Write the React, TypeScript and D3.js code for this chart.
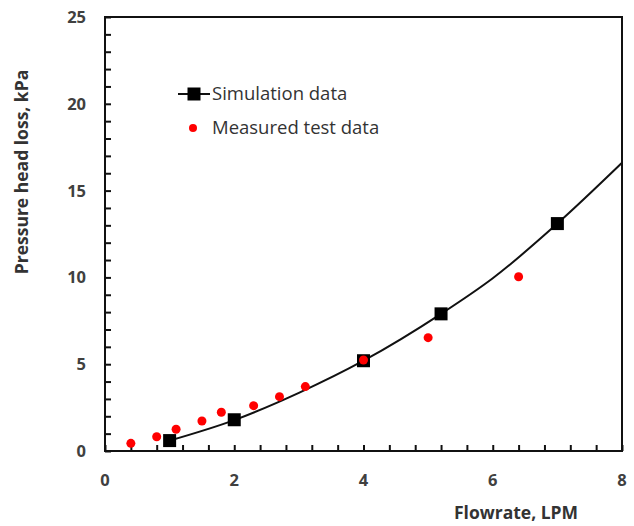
import React, { useEffect, useRef } from "react";
import * as d3 from "d3";

// simulation data (black squares)
const simX = [1, 2, 4, 5.2, 7];
const simY = [0.6, 1.8, 5.2, 7.9, 13.1];

// trend line, runs past the last square to the frame
const trendX = [1, 2, 3, 4, 5.2, 6, 7, 8];
const trendY = [0.6, 1.78, 3.35, 5.2, 7.9, 9.95, 13.1, 16.6];

// measured test data (red dots)
const measX = [0.4, 0.8, 1.1, 1.5, 1.8, 2.3, 2.7, 3.1, 4.0, 5.0, 6.4];
const measY = [0.44, 0.82, 1.25, 1.73, 2.23, 2.61, 3.13, 3.71, 5.24, 6.53, 10.04];

const xTicks = [0, 2, 4, 6, 8];
const yTicks = [0, 5, 10, 15, 20, 25];

const W = 634;
const H = 526;
const M = { left: 105, top: 17, right: 12, bottom: 75 };

const Chart = () => {
    const ref = useRef<SVGSVGElement>(null);

    useEffect(() => {
        if (!ref.current) return;
        const svg = d3.select(ref.current);
        svg.selectAll("*").remove();

        const innerW = W - M.left - M.right;
        const innerH = H - M.top - M.bottom;

        const x = d3.scaleLinear().domain([0, 8]).range([M.left, M.left + innerW]);
        const y = d3.scaleLinear().domain([0, 25]).range([M.top + innerH, M.top]);

        const labelFont = "'Open Sans', sans-serif";
        const grey = "#404040";

        svg.append("rect").attr("width", W).attr("height", H).attr("fill", "#fff");

        // frame
        svg.append("rect")
            .attr("x", M.left)
            .attr("y", M.top)
            .attr("width", innerW)
            .attr("height", innerH)
            .attr("fill", "none")
            .attr("stroke", "#111")
            .attr("stroke-width", 2);

        // minor ticks, pointing inside
        const xMinor = d3.range(0, 8.001, 0.4);
        const yMinor = d3.range(0, 25.001, 1);

        svg.append("g")
            .attr("transform", `translate(0,${M.top + innerH})`)
            .call(d3.axisBottom(x).tickValues(xMinor).tickSize(-6).tickFormat(() => ""))
            .call(g => g.select(".domain").remove())
            .call(g => g.selectAll("line").attr("stroke", "#111").attr("stroke-width", 2));

        svg.append("g")
            .attr("transform", `translate(${M.left},0)`)
            .call(d3.axisLeft(y).tickValues(yMinor).tickSize(-6).tickFormat(() => ""))
            .call(g => g.select(".domain").remove())
            .call(g => g.selectAll("line").attr("stroke", "#111").attr("stroke-width", 2));

        // major tick labels
        svg.append("g")
            .selectAll("text")
            .data(xTicks)
            .join("text")
            .attr("x", d => x(d))
            .attr("y", M.top + innerH + 35)
            .attr("text-anchor", "middle")
            .attr("font-family", labelFont)
            .attr("font-weight", "bold")
            .attr("font-size", 16.5)
            .attr("fill", grey)
            .text(d => d);

        svg.append("g")
            .selectAll("text")
            .data(yTicks)
            .join("text")
            .attr("x", M.left - 19)
            .attr("y", d => y(d) + 6)
            .attr("text-anchor", "end")
            .attr("font-family", labelFont)
            .attr("font-weight", "bold")
            .attr("font-size", 16.5)
            .attr("fill", grey)
            .text(d => d);

        // axis titles
        svg.append("text")
            .attr("x", 516)
            .attr("y", 519)
            .attr("text-anchor", "middle")
            .attr("font-family", labelFont)
            .attr("font-weight", "bold")
            .attr("font-size", 17.5)
            .attr("fill", "#333")
            .text("Flowrate, LPM");

        svg.append("text")
            .attr("transform", `translate(28,172) rotate(-90)`)
            .attr("text-anchor", "middle")
            .attr("font-family", labelFont)
            .attr("font-weight", "bold")
            .attr("font-size", 17.5)
            .attr("fill", "#333")
            .text("Pressure head loss, kPa");

        // trend line
        const trend = trendX.map((d, i) => [d, trendY[i]] as [number, number]);
        const line = d3.line<[number, number]>()
            .x(d => x(d[0]))
            .y(d => y(d[1]))
            .curve(d3.curveMonotoneX);

        svg.append("path")
            .datum(trend)
            .attr("d", line)
            .attr("fill", "none")
            .attr("stroke", "#111")
            .attr("stroke-width", 2);

        // squares
        const sq = 13;
        svg.append("g")
            .selectAll("rect")
            .data(simX.map((d, i) => [d, simY[i]]))
            .join("rect")
            .attr("x", d => x(d[0]) - sq / 2)
            .attr("y", d => y(d[1]) - sq / 2)
            .attr("width", sq)
            .attr("height", sq)
            .attr("fill", "#000");

        // red dots
        svg.append("g")
            .selectAll("circle")
            .data(measX.map((d, i) => [d, measY[i]]))
            .join("circle")
            .attr("cx", d => x(d[0]))
            .attr("cy", d => y(d[1]))
            .attr("r", 4.5)
            .attr("fill", "#ff0000");

        // legend
        const lg = svg.append("g").attr("transform", "translate(178,94)");
        lg.append("line")
            .attr("x1", 0).attr("x2", 32)
            .attr("y1", 0).attr("y2", 0)
            .attr("stroke", "#111").attr("stroke-width", 2);
        lg.append("rect")
            .attr("x", 16 - sq / 2).attr("y", -sq / 2)
            .attr("width", sq).attr("height", sq)
            .attr("fill", "#000");
        lg.append("text")
            .attr("x", 34).attr("y", 6)
            .attr("font-family", labelFont)
            .attr("font-size", 18.5)
            .attr("fill", "#333")
            .text("Simulation data");
        lg.append("circle")
            .attr("cx", 15).attr("cy", 34)
            .attr("r", 4)
            .attr("fill", "#ff0000");
        lg.append("text")
            .attr("x", 34).attr("y", 40)
            .attr("font-family", labelFont)
            .attr("font-size", 18.5)
            .attr("fill", "#333")
            .text("Measured test data");
    }, []);

    return <svg ref={ref} width={W} height={H} style={{ position: "absolute", left: 0, top: 0 }} />;
};

export default function App() {
    return <Chart />;
}
